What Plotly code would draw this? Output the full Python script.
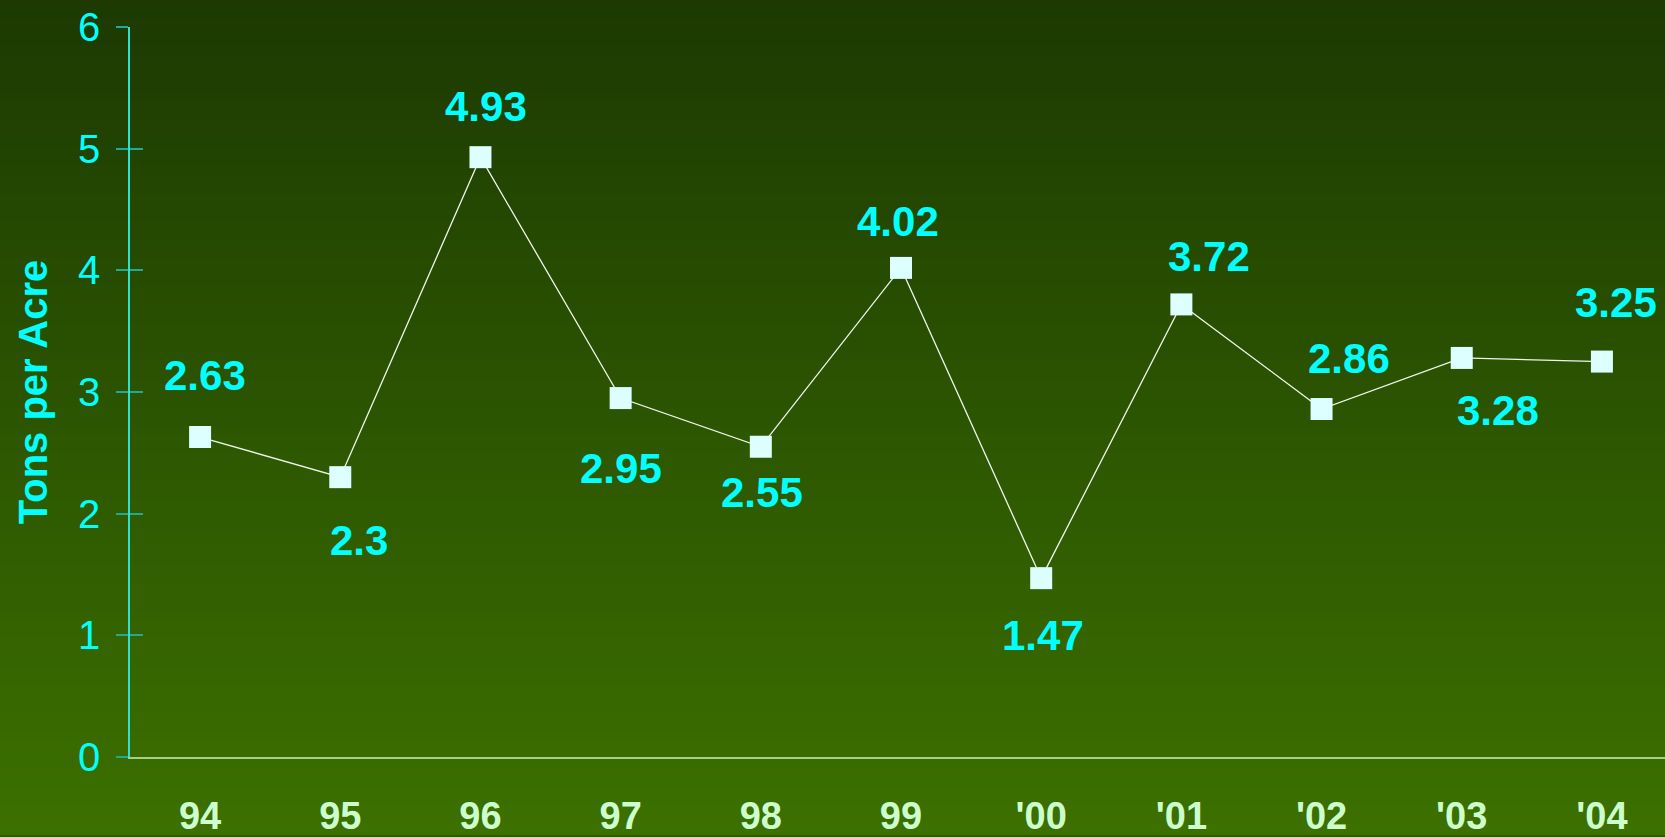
import plotly.graph_objects as go

years = ["94", "95", "96", "97", "98", "99", "'00", "'01", "'02", "'03", "'04"]
tons = [2.63, 2.30, 4.93, 2.95, 2.55, 4.02, 1.47, 3.72, 2.86, 3.28, 3.25]
y_ticks = [0, 1, 2, 3, 4, 5, 6]

# label offsets (pixels): styling only
label_dx = [5, 19, 6, 0, 1, -3, 2, 28, 27, 36, 14]
label_dy = [62, -63, 51, -70, -46, 46, -57, 48, 51, -53, 59]

W, H = 1665, 837
ml, mr, mt, mb = 130, 0, 27, 77
pw, ph = W - ml - mr, H - mt - mb

fig = go.Figure()

fig.add_trace(go.Scatter(
    x=years, y=tons, mode="lines+markers",
    line=dict(color="#eef6ee", width=1.3),
    marker=dict(symbol="square", size=22, color="#ddffff", line=dict(width=0)),
    hoverinfo="x+y", showlegend=False,
))
fig.add_trace(go.Scatter(x=[years[0]], y=[0], yaxis="y2", mode="markers",
                         marker=dict(opacity=0), showlegend=False, hoverinfo="skip"))

def fmt(v):
    s = "%.2f" % v
    return s.rstrip("0").rstrip(".")

for i, v in enumerate(tons):
    fig.add_annotation(
        x=i, y=v, text=fmt(v),
        showarrow=False, xshift=label_dx[i], yshift=label_dy[i],
        font=dict(family="Liberation Sans, Arial", size=42, color="#00ffff", weight="bold"),
    )

# gradient background
n = 90
c0 = (28, 58, 2)
c1 = (60, 112, 0)
x0p, x1p = -ml / pw, 1 + mr / pw
y_bot, y_top = -mb / ph, 1 + mt / ph
for k in range(n):
    t = k / (n - 1)
    col = tuple(round(c0[j] + (c1[j] - c0[j]) * t) for j in range(3))
    ya = y_top - (y_top - y_bot) * k / n
    yb = y_top - (y_top - y_bot) * (k + 1) / n
    fig.add_shape(type="rect", xref="paper", yref="paper", x0=x0p, x1=x1p,
                  y0=yb - 0.002, y1=ya + 0.002, line=dict(width=0),
                  fillcolor="rgb(%d,%d,%d)" % col, layer="below")

fig.update_layout(
    width=W, height=H,
    margin=dict(l=ml, r=mr, t=mt, b=mb, pad=0),
    paper_bgcolor="#2c5401", plot_bgcolor="rgba(0,0,0,0)",
    font=dict(family="Liberation Sans, Arial"),
    xaxis=dict(
        type="category", categoryorder="array", categoryarray=years,
        range=[-0.5, 10.45], showgrid=False, zeroline=False,
        showline=True, linecolor="#a6d08a", linewidth=2,
        ticks="outside", ticklen=24, tickcolor="rgba(0,0,0,0)",
        tickfont=dict(size=38, color="#ccffcc", weight="bold"),
    ),
    yaxis=dict(
        range=[0, 6], tickvals=y_ticks, showgrid=False, zeroline=False,
        showline=True, linecolor="#30e0d0", linewidth=1.5,
        ticks="outside", ticklen=12, tickcolor="#20a898", tickwidth=2,
        tickfont=dict(size=40, color="#00ffff"), ticklabelstandoff=8,
        title=dict(text="Tons per Acre", standoff=18,
                   font=dict(size=40, color="#00ffff", weight="bold")),
    ),
    yaxis2=dict(
        overlaying="y", side="left", range=[0, 6], tickvals=y_ticks,
        showgrid=False, zeroline=False, showline=False,
        ticks="inside", ticklen=13, tickcolor="#20a898", tickwidth=2,
        showticklabels=False,
    ),
)

fig.write_html("out.html")
